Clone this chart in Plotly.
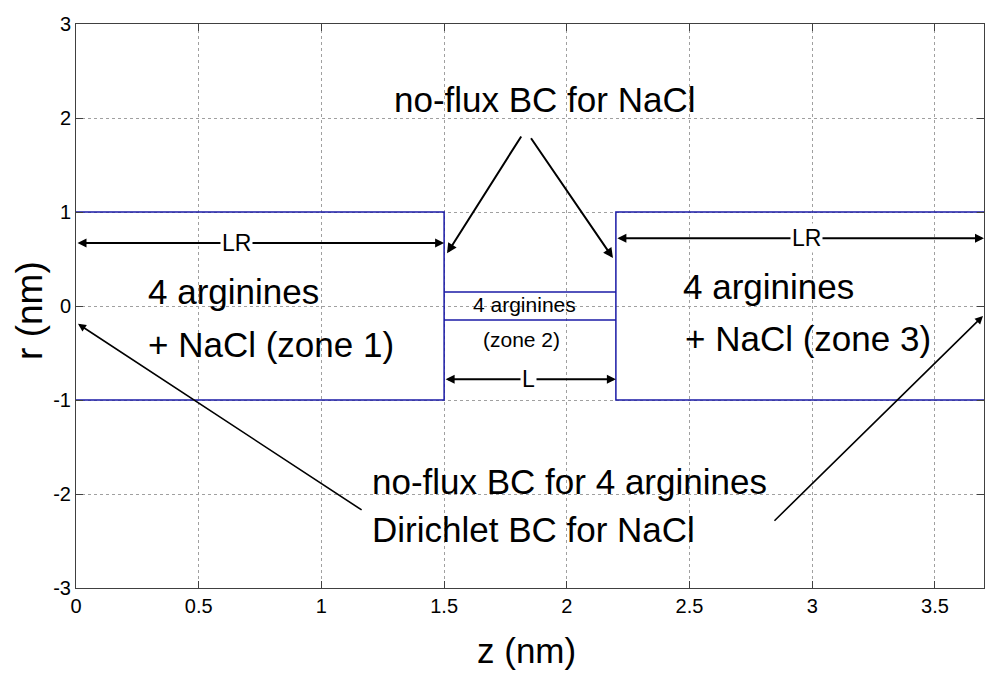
import plotly.graph_objects as go

# ---- data ----
zone_edges_z = [0.0, 1.5, 2.2, 3.7]      # z boundaries of zone 1 / zone 2 / zone 3
pore_radius = 1.0                         # r half-width of zones 1 and 3
channel_radius = 0.15                     # r half-width of zone 2
x_tick_vals = [0, 0.5, 1, 1.5, 2, 2.5, 3, 3.5]
x_tick_text = ["0", "0.5", "1", "1.5", "2", "2.5", "3", "3.5"]
y_tick_vals = [-3, -2, -1, 0, 1, 2, 3]
y_tick_text = ["-3", "-2", "-1", "0", "1", "2", "3"]

FONT = "Liberation Sans, Arial, Helvetica, sans-serif"
BLUE = "#1a1aa6"

z0, z1, z2, z3 = zone_edges_z
R, a = pore_radius, channel_radius

fig = go.Figure()
line = dict(color=BLUE, width=1.5)
# zone 1 outline
fig.add_trace(go.Scatter(x=[z0, z1, z1, z0], y=[R, R, -R, -R], mode="lines", line=line, hoverinfo="skip"))
# zone 2 channel walls
fig.add_trace(go.Scatter(x=[z1, z2], y=[a, a], mode="lines", line=line, hoverinfo="skip"))
fig.add_trace(go.Scatter(x=[z1, z2], y=[-a, -a], mode="lines", line=line, hoverinfo="skip"))
# zone 3 outline
fig.add_trace(go.Scatter(x=[z3, z2, z2, z3], y=[R, R, -R, -R], mode="lines", line=line, hoverinfo="skip"))

ann = []

def arrow(xh, yh, xt, yt, width=2, both=False, size=1.0):
    d = dict(x=xh, y=yh, ax=xt, ay=yt, xref="x", yref="y", axref="x", ayref="y",
             text="", showarrow=True, arrowhead=2, arrowsize=size, arrowwidth=width,
             arrowcolor="black", standoff=0, startstandoff=0)
    if both:
        d.update(arrowside="end+start", startarrowhead=2, startarrowsize=size)
    ann.append(d)

def label(x, y, text, size, xanchor="center", bg=None):
    d = dict(x=x, y=y, xref="x", yref="y", text=text, showarrow=False,
             xanchor=xanchor, yanchor="middle",
             font=dict(family=FONT, size=size, color="black"))
    if bg:
        d.update(bgcolor=bg, borderpad=1)
    ann.append(d)

BIG = 35

# dimension arrows
arrow(z1, 0.67, z0, 0.67, width=2, both=True, size=0.9)
arrow(z3, 0.72, z2, 0.72, width=2, both=True, size=0.9)
arrow(z2, -0.78, z1, -0.78, width=2, both=True, size=0.9)
label(0.656, 0.67, "LR", 23, bg="white")
label(2.975, 0.72, "LR", 23, bg="white")
label(1.842, -0.78, "L", 23, bg="white")

# no-flux BC for NaCl
label(1.911, 2.20, "no-flux BC for NaCl", BIG)
arrow(1.512, 0.56, 1.818, 1.82, width=2)
arrow(2.188, 0.51, 1.850, 1.80, width=2)

# zone texts
label(0.285, 0.15, "4 arginines", BIG, xanchor="left")
label(0.285, -0.41, "+ NaCl (zone 1)", BIG, xanchor="left")
label(1.828, 0.02, "4 arginines", 21)
label(1.815, -0.36, "(zone 2)", 21)
label(2.466, 0.21, "4 arginines", BIG, xanchor="left")
label(2.473, -0.35, "+ NaCl (zone 3)", BIG, xanchor="left")

# bottom BC text
label(1.198, -1.87, "no-flux BC for 4 arginines", BIG, xanchor="left")
label(1.198, -2.38, "Dirichlet BC for NaCl", BIG, xanchor="left")
arrow(0.008, -0.19, 1.17, -2.18, width=1.6)
arrow(3.696, -0.106, 2.84, -2.30, width=1.6)

# axis titles
ann.append(dict(x=0.4956, y=-0.110, xref="paper", yref="paper", text="z (nm)", showarrow=False,
                xanchor="center", yanchor="middle", font=dict(family=FONT, size=35, color="black")))
ann.append(dict(x=-0.0507, y=0.493, xref="paper", yref="paper", text="r (nm)", showarrow=False,
                textangle=-90, xanchor="center", yanchor="middle",
                font=dict(family=FONT, size=37, color="black")))

axis_common = dict(showgrid=True, gridcolor="#a0a0a0", griddash="dot", gridwidth=1,
                   zeroline=False, showline=True, linecolor="#404040", linewidth=1,
                   mirror="ticks", ticks="inside", ticklen=7, tickcolor="#404040",
                   automargin=False,
                   tickfont=dict(family=FONT, size=20, color="black"))

# page body has an 8px default margin, so the figure is shrunk by 8px and margins compensated
fig.update_layout(
    width=986, height=665,
    margin=dict(l=68, r=10, t=16, b=85),
    paper_bgcolor="white", plot_bgcolor="white",
    showlegend=False,
    annotations=ann,
    xaxis=dict(range=[z0, z3], tickvals=x_tick_vals, ticktext=x_tick_text, **axis_common),
    yaxis=dict(range=[-3, 3], tickvals=y_tick_vals, ticktext=y_tick_text, **axis_common),
)

fig.write_html("out.html")
